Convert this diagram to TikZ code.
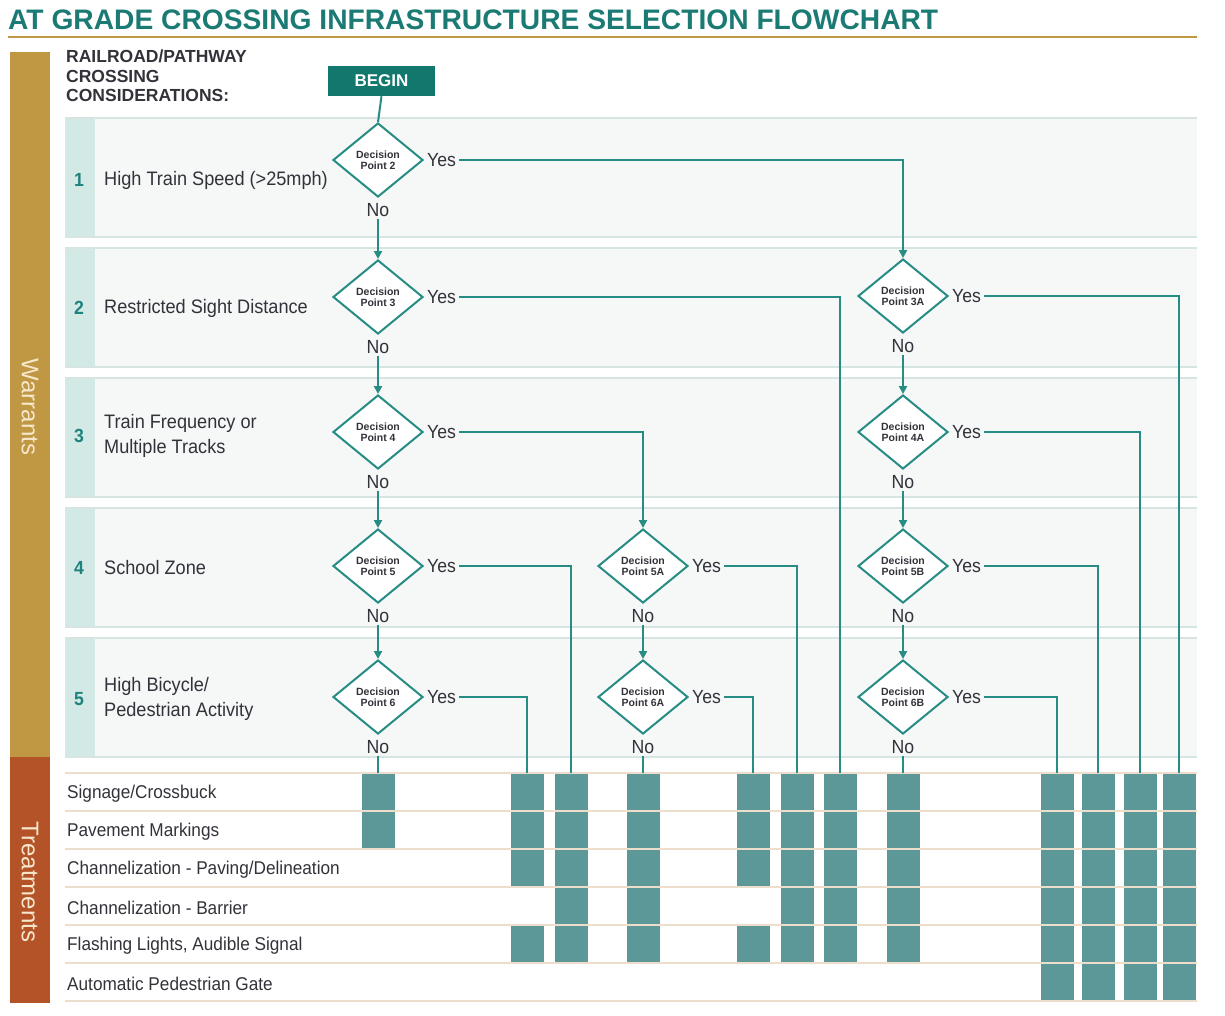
\documentclass[tikz,border=0pt]{standalone}
\usepackage{fontspec}
\setmainfont[FakeStretch=0.93]{Liberation Sans}
\newfontfamily\plainsans{Liberation Sans}
\usetikzlibrary{shapes.geometric,arrows.meta}
\definecolor{titleteal}{RGB}{27,122,116}
\definecolor{beginteal}{RGB}{18,120,110}
\definecolor{lineteal}{RGB}{38,140,132}
\definecolor{barc}{RGB}{93,152,152}
\definecolor{goldc}{RGB}{192,151,66}
\definecolor{rustc}{RGB}{180,82,40}
\definecolor{stripc}{RGB}{210,233,230}
\definecolor{bandc}{RGB}{246,247,247}
\definecolor{bandline}{RGB}{214,229,226}
\definecolor{trline}{RGB}{236,222,202}
\definecolor{txt}{RGB}{50,50,58}
\definecolor{numc}{RGB}{30,130,125}
\definecolor{sidetxt}{RGB}{246,232,205}
\tikzset{
  dec/.style={diamond, draw=lineteal, line width=2pt, fill=white, minimum width=90pt, minimum height=74pt, aspect=1.2, inner sep=0pt, align=center, font=\plainsans\bfseries\fontsize{10.5}{11}\selectfont, text=txt},
  yes/.style={anchor=west, inner sep=3pt, font=\fontsize{19}{19}\selectfont, text=txt},
  no/.style={anchor=north, inner sep=2pt, font=\fontsize{19}{19}\selectfont, text=txt},
  ln/.style={draw=lineteal, line width=2pt},
  arr/.style={ln, -{Triangle[length=8pt,width=8pt]}},
  rowtxt/.style={anchor=west, align=left, inner sep=0pt, font=\fontsize{19.5}{25}\selectfont, text=txt},
  numtxt/.style={inner sep=0pt, font=\bfseries\fontsize{19}{19}\selectfont, text=numc},
  trtxt/.style={anchor=west, inner sep=0pt, font=\fontsize{18.5}{18.5}\selectfont, text=txt},
  sidelabel/.style={rotate=-90, font=\plainsans\fontsize{24}{24}\selectfont, text=sidetxt}
}
\begin{document}
\begin{tikzpicture}[x=1pt,y=-1pt]
\useasboundingbox (0,0) rectangle (1225,1015);
% title
\node[anchor=west, inner sep=0pt, text=titleteal, font=\plainsans\bfseries\fontsize{28.2}{28.2}\selectfont] (title) at (8,20) {AT GRADE CROSSING INFRASTRUCTURE SELECTION FLOWCHART};
\draw[goldc, line width=1.5pt] (8,37) -- (1197,37);
% side bars
\fill[goldc] (10,52) rectangle (50,757);
\fill[rustc] (10,757) rectangle (50,1003);
\node[sidelabel] (warr) at (30,407) {Warrants};
\node[sidelabel] (treat) at (30,882) {Treatments};
% header
\node[anchor=north west, align=left, inner sep=0pt, text=txt, font=\plainsans\bfseries\fontsize{17.5}{19.5}\selectfont] (hdr) at (66,50) {RAILROAD/PATHWAY\\CROSSING\\CONSIDERATIONS:};
% bands
\foreach \t in {118,248,378,508,638}{
  \fill[bandc] (65,\t) rectangle (1197,\t+119);
  \fill[stripc] (65,\t) rectangle (95,\t+119);
  \draw[bandline, line width=1.5pt] (65,\t) -- (1197,\t);
  \draw[bandline, line width=1.5pt] (65,\t+119) -- (1197,\t+119);
}
% row labels
\node[numtxt] (r1n) at (79,180) {1};
\node[rowtxt] (r1t) at (104,180) {High Train Speed (>25mph)};
\node[numtxt] (r2n) at (79,308) {2};
\node[rowtxt] (r2t) at (104,308) {Restricted Sight Distance};
\node[numtxt] (r3n) at (79,436) {3};
\node[rowtxt] (r3t) at (104,436) {Train Frequency or\\Multiple Tracks};
\node[numtxt] (r4n) at (79,568) {4};
\node[rowtxt] (r4t) at (104,568) {School Zone};
\node[numtxt] (r5n) at (79,699) {5};
\node[rowtxt] (r5t) at (104,699) {High Bicycle/\\Pedestrian Activity};
% treatment rows
\foreach \yy in {773,811,849,887,925,963,1001}{
  \draw[trline, line width=1.5pt] (65,\yy) -- (1197,\yy);
}
\node[trtxt] (t1) at (67,794) {Signage/Crossbuck};
\node[trtxt] (t2) at (67,832) {Pavement Markings};
\node[trtxt] (t3) at (67,870) {Channelization - Paving/Delineation};
\node[trtxt] (t4) at (67,908) {Channelization - Barrier};
\node[trtxt] (t5) at (67,946) {Flashing Lights, Audible Signal};
\node[trtxt] (t6) at (67,984) {Automatic Pedestrian Gate};
% bars
\foreach \x/\rows in {378/{1,2}, 527/{1,2,3,5}, 571/{1,2,3,4,5}, 643/{1,2,3,4,5}, 753/{1,2,3,5}, 797/{1,2,3,4,5}, 840/{1,2,3,4,5}, 903/{1,2,3,4,5}, 1057/{1,2,3,4,5,6}, 1098/{1,2,3,4,5,6}, 1140/{1,2,3,4,5,6}, 1179/{1,2,3,4,5,6}}{
  \foreach \r in \rows {
    \fill[barc] ({\x-16.5},{773+38*(\r-1)+1.2}) rectangle ({\x+16.5},{773+38*\r-1.2});
  }
}
\coordinate (bar1) at (378,773);
\coordinate (bar2) at (527,773);
\coordinate (bar3) at (571,773);
\coordinate (bar4) at (643,773);
\coordinate (bar5) at (753,773);
\coordinate (bar6) at (797,773);
\coordinate (bar7) at (840,773);
\coordinate (bar8) at (903,773);
\coordinate (bar9) at (1057,773);
\coordinate (bar10) at (1098,773);
\coordinate (bar11) at (1140,773);
\coordinate (bar12) at (1179,773);
% begin
\node[fill=beginteal, minimum width=107pt, minimum height=30pt, inner sep=0pt, text=white, font=\plainsans\bfseries\fontsize{17}{17}\selectfont] (begin) at (381.5,81) {BEGIN};
% diamonds
\node[dec] (dp2) at (378,160) {Decision\\Point 2};
\node[dec] (dp3) at (378,297) {Decision\\Point 3};
\node[dec] (dp4) at (378,432) {Decision\\Point 4};
\node[dec] (dp5) at (378,566) {Decision\\Point 5};
\node[dec] (dp6) at (378,697) {Decision\\Point 6};
\node[dec] (dp5a) at (643,566) {Decision\\Point 5A};
\node[dec] (dp6a) at (643,697) {Decision\\Point 6A};
\node[dec] (dp3a) at (903,296) {Decision\\Point 3A};
\node[dec] (dp4a) at (903,432) {Decision\\Point 4A};
\node[dec] (dp5b) at (903,566) {Decision\\Point 5B};
\node[dec] (dp6b) at (903,697) {Decision\\Point 6B};
% yes / no labels
\foreach \d in {dp2,dp3,dp4,dp5,dp6,dp5a,dp6a,dp3a,dp4a,dp5b,dp6b}{
  \node[yes] (y\d) at (\d.east) {Yes};
  \node[no] (n\d) at ([yshift=-3pt]\d.south) {No};
}
% connectors
\draw[ln] (begin.south) -- (dp2.north);
\draw[arr] (ndp2.south) -- (dp3.north);
\draw[arr] (ndp3.south) -- (dp4.north);
\draw[arr] (ndp4.south) -- (dp5.north);
\draw[arr] (ndp5.south) -- (dp6.north);
\draw[ln] (ndp6.south) -- (bar1);
\draw[arr] (ndp5a.south) -- (dp6a.north);
\draw[ln] (ndp6a.south) -- (bar4);
\draw[arr] (ndp3a.south) -- (dp4a.north);
\draw[arr] (ndp4a.south) -- (dp5b.north);
\draw[arr] (ndp5b.south) -- (dp6b.north);
\draw[ln] (ndp6b.south) -- (bar8);
\draw[arr] (ydp2.east) -| (dp3a.north);
\draw[ln] (ydp3.east) -| (bar7);
\draw[arr] (ydp4.east) -| (dp5a.north);
\draw[ln] (ydp5.east) -| (bar3);
\draw[ln] (ydp6.east) -| (bar2);
\draw[ln] (ydp5a.east) -| (bar6);
\draw[ln] (ydp6a.east) -| (bar5);
\draw[ln] (ydp3a.east) -| (bar12);
\draw[ln] (ydp4a.east) -| (bar11);
\draw[ln] (ydp5b.east) -| (bar10);
\draw[ln] (ydp6b.east) -| (bar9);
\end{tikzpicture}
\end{document}
